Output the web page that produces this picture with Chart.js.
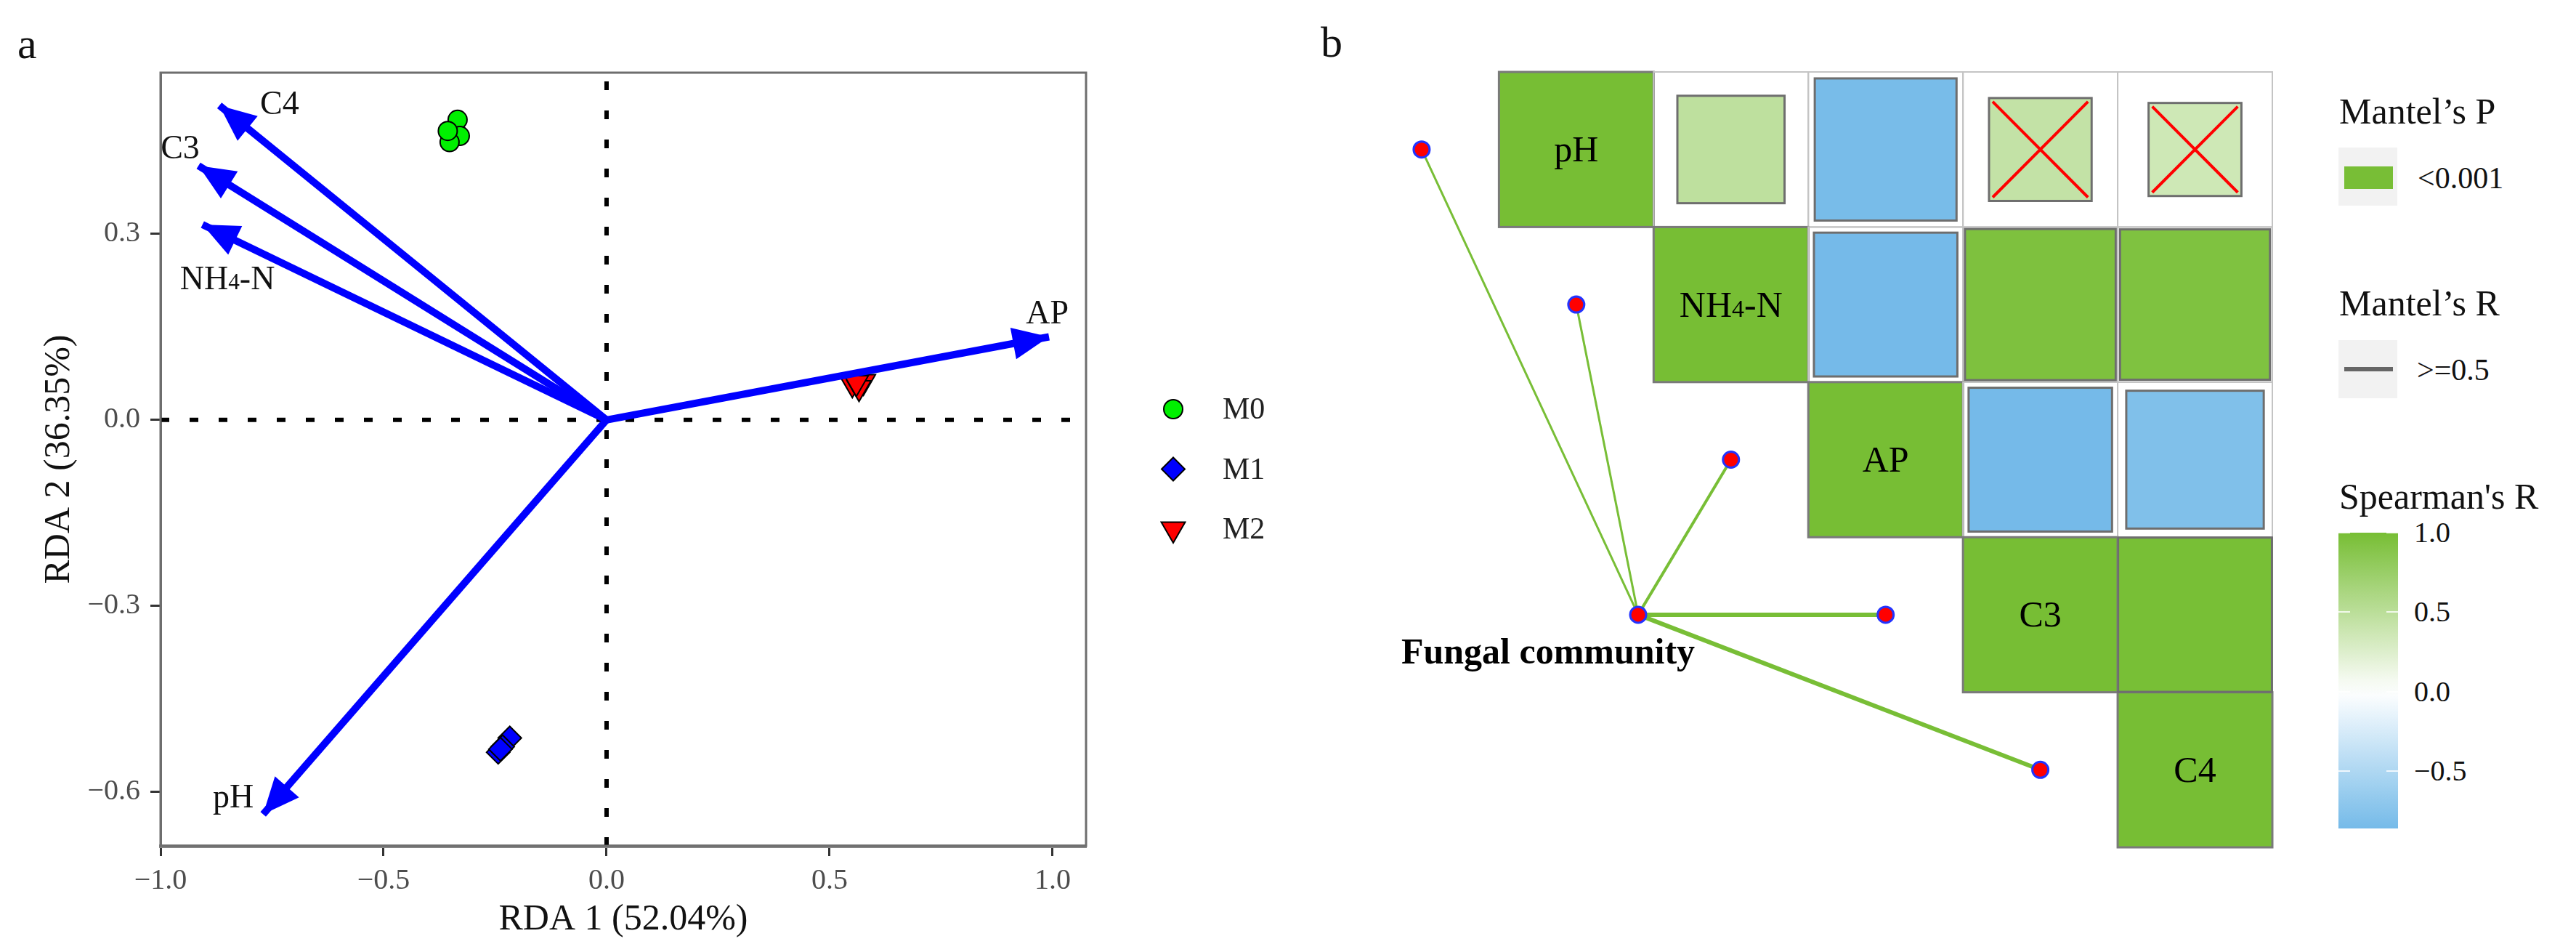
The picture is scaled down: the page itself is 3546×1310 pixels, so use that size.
<!DOCTYPE html>
<html>
<head>
<meta charset="utf-8">
<script src="https://cdn.jsdelivr.net/npm/chart.js@4.4.1/dist/chart.umd.min.js"></script>
<style>
  body { margin: 0; background: #fff; }
  #fig { position: relative; width: 3546px; height: 1310px; overflow: hidden;
         font-family: "Liberation Serif", "Times New Roman", serif; color: #111; }
  canvas { position: absolute; }
  .t { position: absolute; white-space: nowrap; line-height: 1; transform: translateY(-50%); }
</style>
</head>
<body>
<div id="fig">
  <canvas id="rda" width="1780" height="1310" style="left:0;top:0"></canvas>
  <canvas id="mantel" width="1424" height="1107" style="left:1724px;top:79px"></canvas>
  <div class="t" style="left:24px;top:60px;font-size:60px">a</div>
  <div class="t" style="left:1818px;top:58px;font-size:60px">b</div>
  <div id="legendB"></div>
</div>
<script>
// ---- panel a: RDA biplot ----
const envVars = ['C4', 'C3', 'NH4-N', 'AP', 'pH'];
const envRDA1 = [-0.868, -0.915, -0.906, 0.992, -0.770];
const envRDA2 = [0.507, 0.410, 0.315, 0.134, -0.636];

const groups = ['M0', 'M1', 'M2'];
const m0RDA1 = [-0.334, -0.329, -0.352, -0.356];
const m0RDA2 = [0.484, 0.458, 0.448, 0.466];
const m1RDA1 = [-0.217, -0.233, -0.243, -0.238];
const m1RDA2 = [-0.513, -0.527, -0.536, -0.531];
const m2RDA1 = [0.551, 0.576, 0.566, 0.560];
const m2RDA2 = [0.058, 0.062, 0.052, 0.060];

const xTicks = [-1.0, -0.5, 0.0, 0.5, 1.0];
const yTicks = [-0.6, -0.3, 0.0, 0.3];
const xLim = [-1.0, 1.075];
const yLim = [-0.687, 0.56];

// ---- panel b: Mantel test + Spearman matrix ----
const matVars = ['pH', 'NH4-N', 'AP', 'C3', 'C4'];
const spearmanR = [
  [1.00, 0.48, -0.84, 0.44, 0.36],
  [null, 1.00, -0.86, 0.95, 0.94],
  [null, null, 1.00, -0.86, -0.79],
  [null, null, null, 1.00, 0.99],
  [null, null, null, null, 1.00]
];
const spearmanNS = [[0, 3], [0, 4]];
const mantelP = ['<0.001', '<0.001', '<0.001', '<0.001', '<0.001'];
const mantelR = ['>=0.5', '>=0.5', '>=0.5', '>=0.5', '>=0.5'];
const spearmanTicks = [1.0, 0.5, 0.0, -0.5];

// layout / style
const FONT = '"Liberation Serif", "Times New Roman", serif';
const envLabelAt = [[-0.733, 0.511], [-0.956, 0.440], [-0.850, 0.228], [0.988, 0.174], [-0.837, -0.607]];
const groupStyle = [
  { pointStyle: 'circle', radius: 13, rotation: 0, color: '#00F000' },
  { pointStyle: 'rectRot', radius: 16, rotation: 0, color: '#0000FF' },
  { pointStyle: 'triangle', radius: 19, rotation: 180, color: '#FF0000' }
];
const hub = { x: 0.9, y: 3.5 };
const edgeWidth = [3, 3, 4, 6, 6];
const GREEN = '#78BE36';

const lowRGB = [94, 175, 229], midRGB = [255, 255, 255], highRGB = [119, 190, 52];
function corColor(r) {
  const t = Math.min(1, Math.abs(r));
  const end = r >= 0 ? highRGB : lowRGB;
  const c = midRGB.map((m, k) => Math.round(m + (end[k] - m) * t));
  return `rgb(${c.join(',')})`;
}
const fmt = v => (v < 0 ? '\u2212' : '') + Math.abs(v).toFixed(1);

// text with the small "4" in NH4-N
function richText(ctx, text, x, y, size, weight) {
  const parts = text === 'NH4-N' ? [['NH', 1], ['4', 0.68], ['-N', 1]] : [[text, 1]];
  let w = 0;
  parts.forEach(p => { ctx.font = `${weight || ''} ${size * p[1]}px ${FONT}`; w += ctx.measureText(p[0]).width; });
  let cx = x - w / 2;
  ctx.textAlign = 'left';
  ctx.textBaseline = 'alphabetic';
  const base = y + size * 0.33;
  parts.forEach(p => {
    ctx.font = `${weight || ''} ${size * p[1]}px ${FONT}`;
    ctx.fillText(p[0], cx, base);
    cx += ctx.measureText(p[0]).width;
  });
}

function marker(ctx, st, x, y) {
  ctx.fillStyle = st.color; ctx.strokeStyle = '#000'; ctx.lineWidth = 2;
  if (Chart.helpers && Chart.helpers.drawPoint) {
    Chart.helpers.drawPoint(ctx, { pointStyle: st.pointStyle, radius: st.radius, rotation: st.rotation, borderWidth: 2 }, x, y);
    return;
  }
  ctx.beginPath();
  ctx.arc(x, y, st.radius, 0, Math.PI * 2);
  ctx.fill(); ctx.stroke();
}

const rdaDecor = {
  id: 'rdaDecor',
  afterDatasetsDraw(chart) {
    const { ctx, chartArea: a, scales: { x, y } } = chart;
    ctx.save();
    // arrow heads
    ctx.fillStyle = '#0000FF';
    envVars.forEach((name, i) => {
      const pts = chart.getDatasetMeta(i).data;
      const p0 = pts[0], p1 = pts[1];
      const ang = Math.atan2(p1.y - p0.y, p1.x - p0.x);
      const L = 50, W = 22;
      const bx = p1.x - L * Math.cos(ang), by = p1.y - L * Math.sin(ang);
      ctx.beginPath();
      ctx.moveTo(p1.x, p1.y);
      ctx.lineTo(bx - W * Math.sin(ang), by + W * Math.cos(ang));
      ctx.lineTo(bx + W * Math.sin(ang), by - W * Math.cos(ang));
      ctx.closePath();
      ctx.fill();
    });
    // arrow labels
    ctx.fillStyle = '#111';
    envVars.forEach((name, i) => {
      richText(ctx, name, x.getPixelForValue(envLabelAt[i][0]), y.getPixelForValue(envLabelAt[i][1]), 46);
    });
    // panel frame
    ctx.strokeStyle = '#6e6e6e';
    ctx.lineWidth = 3;
    ctx.strokeRect(a.left, a.top, a.width, a.height);
    // legend
    groups.forEach((g, k) => {
      const ly = 563 + k * 82.5;
      marker(ctx, groupStyle[k], 1615, ly);
      ctx.fillStyle = '#222';
      ctx.font = `42px ${FONT}`;
      ctx.textAlign = 'left';
      ctx.textBaseline = 'middle';
      ctx.fillText(g, 1683, ly + 2);
    });
    ctx.restore();
  }
};

const arrowSets = envVars.map((name, i) => ({
  label: name,
  data: [{ x: 0, y: 0 }, { x: envRDA1[i], y: envRDA2[i] }],
  showLine: true, borderColor: '#0000FF', borderWidth: 10, pointRadius: 0, order: 0
}));
const groupX = [m0RDA1, m1RDA1, m2RDA1], groupY = [m0RDA2, m1RDA2, m2RDA2];
const groupSets = groups.map((g, k) => ({
  label: g,
  data: groupX[k].map((v, j) => ({ x: v, y: groupY[k][j] })),
  pointStyle: groupStyle[k].pointStyle, pointRadius: groupStyle[k].radius,
  pointRotation: groupStyle[k].rotation, backgroundColor: groupStyle[k].color,
  borderColor: '#000', borderWidth: 2, showLine: false, order: 1
}));
const refSets = [
  { data: [{ x: 0, y: yLim[0] }, { x: 0, y: yLim[1] }] },
  { data: [{ x: xLim[0], y: 0 }, { x: xLim[1], y: 0 }] }
].map(d => Object.assign(d, { showLine: true, borderColor: '#000', borderWidth: 6, borderDash: [12, 28], pointRadius: 0, order: 2 }));

new Chart(document.getElementById('rda'), {
  type: 'scatter',
  data: { datasets: [...arrowSets, ...groupSets, ...refSets] },
  options: {
    responsive: false,
    animation: false,
    layout: { padding: { top: 100, right: 285, bottom: 0, left: 0 } },
    plugins: { legend: { display: false }, tooltip: { enabled: false } },
    scales: {
      x: {
        type: 'linear', min: xLim[0], max: xLim[1],
        afterBuildTicks: s => { s.ticks = xTicks.map(v => ({ value: v })); },
        afterFit: s => { s.height = 146; },
        ticks: { callback: fmt, autoSkip: false, maxRotation: 0, padding: 10, color: '#4d4d4d', font: { family: FONT, size: 40 } },
        grid: { drawOnChartArea: false, drawTicks: true, tickLength: 14, tickColor: '#333', tickWidth: 3 },
        border: { display: true, color: '#888', width: 5 },
        title: { display: true, text: 'RDA 1 (52.04%)', color: '#111', font: { family: FONT, size: 50 }, padding: { top: 0, bottom: 14 } }
      },
      y: {
        type: 'linear', min: yLim[0], max: yLim[1],
        afterBuildTicks: s => { s.ticks = yTicks.map(v => ({ value: v })); },
        afterFit: s => { s.width = 221; },
        ticks: { callback: fmt, autoSkip: false, padding: 14, color: '#4d4d4d', font: { family: FONT, size: 40 } },
        grid: { drawOnChartArea: false, drawTicks: true, tickLength: 14, tickColor: '#333', tickWidth: 3 },
        border: { display: true, color: '#6e6e6e', width: 3 },
        title: { display: true, text: 'RDA 2 (36.35%)', color: '#111', font: { family: FONT, size: 50 }, padding: { top: 52, bottom: 0 } }
      }
    }
  },
  plugins: [rdaDecor]
});

// ---- panel b chart ----
const matrixDecor = {
  id: 'matrixDecor',
  beforeDatasetsDraw(chart) {
    const { ctx, scales: { x, y } } = chart;
    const n = matVars.length;
    ctx.save();
    for (let i = 0; i < n; i++) {
      for (let j = i; j < n; j++) {
        const x0 = x.getPixelForValue(j), x1 = x.getPixelForValue(j + 1);
        const y0 = y.getPixelForValue(i), y1 = y.getPixelForValue(i + 1);
        if (i === j) {
          ctx.fillStyle = corColor(spearmanR[i][j]);
          ctx.fillRect(x0, y0, x1 - x0, y1 - y0);
        }
        ctx.strokeStyle = i === j ? '#7a7a7a' : '#c4c4c4';
        ctx.lineWidth = i === j ? 3 : 2;
        ctx.strokeRect(x0, y0, x1 - x0, y1 - y0);
      }
    }
    for (let i = 0; i < n; i++) {
      for (let j = i + 1; j < n; j++) {
        const r = spearmanR[i][j];
        const s = Math.sqrt(Math.abs(r));
        const sx0 = x.getPixelForValue(j + 0.5 - s / 2), sx1 = x.getPixelForValue(j + 0.5 + s / 2);
        const sy0 = y.getPixelForValue(i + 0.5 - s / 2), sy1 = y.getPixelForValue(i + 0.5 + s / 2);
        ctx.fillStyle = corColor(r);
        ctx.fillRect(sx0, sy0, sx1 - sx0, sy1 - sy0);
        ctx.strokeStyle = '#6e6e6e';
        ctx.lineWidth = 3;
        ctx.strokeRect(sx0, sy0, sx1 - sx0, sy1 - sy0);
        if (spearmanNS.some(p => p[0] === i && p[1] === j)) {
          const d = 5;
          ctx.strokeStyle = '#FF0000';
          ctx.lineWidth = 4;
          ctx.beginPath();
          ctx.moveTo(sx0 + d, sy0 + d); ctx.lineTo(sx1 - d, sy1 - d);
          ctx.moveTo(sx1 - d, sy0 + d); ctx.lineTo(sx0 + d, sy1 - d);
          ctx.stroke();
        }
      }
    }
    ctx.fillStyle = '#000';
    matVars.forEach((v, i) => {
      richText(ctx, v, x.getPixelForValue(i + 0.5), y.getPixelForValue(i + 0.5), 50);
    });
    ctx.restore();
  },
  afterDatasetsDraw(chart) {
    const { ctx, scales: { x, y } } = chart;
    ctx.save();
    ctx.fillStyle = '#000';
    richText(ctx, 'Fungal community', x.getPixelForValue(hub.x) - 124, y.getPixelForValue(hub.y) + 51, 50, 'bold');
    ctx.restore();
  }
};

const edgeSets = matVars.map((v, i) => ({
  label: v + ' ' + mantelP[i] + ' ' + mantelR[i],
  data: [{ x: hub.x, y: hub.y }, { x: i - 0.5, y: i + 0.5 }],
  showLine: true, borderColor: GREEN, borderWidth: edgeWidth[i], pointRadius: 0, order: 1
}));
const nodeSet = {
  label: 'nodes',
  data: [...matVars.map((v, i) => ({ x: i - 0.5, y: i + 0.5 })), { x: hub.x, y: hub.y }],
  pointRadius: 11, backgroundColor: '#FF0000', borderColor: '#2233FF', borderWidth: 3,
  showLine: false, order: 0
};

new Chart(document.getElementById('mantel'), {
  type: 'scatter',
  data: { datasets: [...edgeSets, nodeSet] },
  options: {
    responsive: false,
    animation: false,
    layout: { padding: 20 },
    plugins: { legend: { display: false }, tooltip: { enabled: false } },
    scales: {
      x: { type: 'linear', min: -1.5, max: 5, display: false },
      y: { type: 'linear', min: 0, max: 5, reverse: true, display: false }
    }
  },
  plugins: [matrixDecor]
});

// ---- panel b legends ----
const lb = document.getElementById('legendB');
function addText(txt, left, top, size) {
  const d = document.createElement('div');
  d.className = 't';
  d.textContent = txt;
  d.style.left = left + 'px';
  d.style.top = top + 'px';
  d.style.fontSize = size + 'px';
  lb.appendChild(d);
}
function addBox(left, top, w, h, bg) {
  const d = document.createElement('div');
  Object.assign(d.style, { position: 'absolute', left: left + 'px', top: top + 'px', width: w + 'px', height: h + 'px', background: bg });
  lb.appendChild(d);
  return d;
}
addText('Mantel\u2019s P', 3220, 153, 50);
addBox(3219, 203, 81, 80, '#f2f2f2');
addBox(3227, 229, 67, 31, GREEN);
addText([...new Set(mantelP)][0], 3328, 245, 42);

addText('Mantel\u2019s R', 3220, 417, 50);
addBox(3219, 468, 81, 80, '#f2f2f2');
addBox(3227, 505, 67, 6, '#666');
addText([...new Set(mantelR)][0], 3327, 509, 42);

addText("Spearman's R", 3220, 683, 50);
const allR = spearmanR.flat().filter(v => v !== null);
const barMax = Math.max(...allR), barMin = Math.min(...allR);
const barTop = 733, barH = 407, barLeft = 3219, barW = 82;
const stops = [];
for (let k = 0; k <= 20; k++) {
  const v = barMax - (barMax - barMin) * k / 20;
  stops.push(`${corColor(v)} ${k * 5}%`);
}
addBox(barLeft, barTop, barW, barH, `linear-gradient(to bottom, ${stops.join(',')})`);
spearmanTicks.forEach(v => {
  const ty = barTop + (barMax - v) / (barMax - barMin) * barH;
  addBox(barLeft, ty - 1, 16, 2, 'rgba(255,255,255,0.8)');
  addBox(barLeft + barW - 16, ty - 1, 16, 2, 'rgba(255,255,255,0.8)');
  addText(fmt(v), 3323, ty, 40);
});
</script>
</body>
</html>
